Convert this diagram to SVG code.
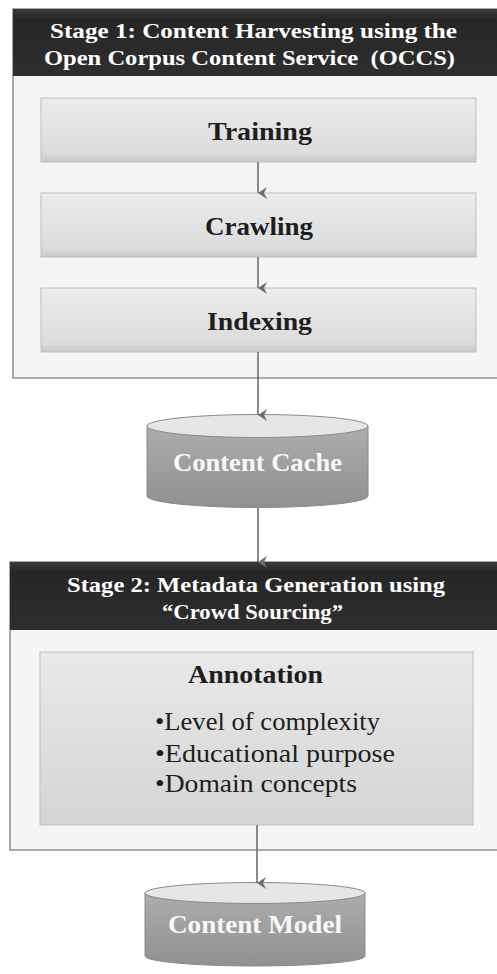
<svg xmlns="http://www.w3.org/2000/svg" width="497" height="974" viewBox="0 0 497 974">
  <defs>
    <linearGradient id="headerFill" x1="0" y1="0" x2="0" y2="1">
      <stop offset="0" stop-color="#3a3a3a"/>
      <stop offset="0.15" stop-color="#262626"/>
      <stop offset="1" stop-color="#2e2e2e"/>
    </linearGradient>
    <linearGradient id="stepFill" x1="0" y1="0" x2="0" y2="1">
      <stop offset="0" stop-color="#ececec"/>
      <stop offset="0.85" stop-color="#dcdcdc"/>
      <stop offset="1" stop-color="#c8c8c8"/>
    </linearGradient>
    <linearGradient id="annotFill" x1="0" y1="0" x2="0" y2="1">
      <stop offset="0" stop-color="#e9e9e9"/>
      <stop offset="1" stop-color="#d4d4d4"/>
    </linearGradient>
    <linearGradient id="drumFill" x1="0" y1="0" x2="0" y2="1">
      <stop offset="0" stop-color="#adadad"/>
      <stop offset="1" stop-color="#909090"/>
    </linearGradient>
    <marker id="arrowHead" markerUnits="userSpaceOnUse" markerWidth="14" markerHeight="14" refX="7" refY="12" orient="auto-start-reverse" viewBox="0 0 14 14">
      <path d="M1,3 L7,12 L13,3 L7,6 Z" fill="#6e6e6e"/>
    </marker>
    <style>
      .stage { fill: #f5f5f5; stroke: #8c8c8c; stroke-width: 1.5; }
      .header { fill: url(#headerFill); }
      .step { fill: url(#stepFill); stroke: #bdbdbd; stroke-width: 1; }
      .annot { fill: url(#annotFill); stroke: #bdbdbd; stroke-width: 1; }
      .drum { fill: url(#drumFill); stroke: #8a8a8a; stroke-width: 1; }
      .drumTop { fill: #e6e6e6; stroke: #8a8a8a; stroke-width: 1; }
      .hdText { font-family: "Liberation Serif", "DejaVu Serif", serif; font-weight: bold; font-size: 22px; fill: #ffffff; text-anchor: middle; white-space: pre; }
      .stepText { font-family: "Liberation Serif", "DejaVu Serif", serif; font-weight: bold; font-size: 25px; fill: #1e1e1e; text-anchor: middle; }
      .drumText { font-family: "Liberation Serif", "DejaVu Serif", serif; font-weight: bold; font-size: 26px; fill: #f8f8f8; text-anchor: middle; }
      .bullet { font-family: "Liberation Serif", "DejaVu Serif", serif; font-size: 26px; fill: #1e1e1e; }
      .conn { stroke: #6e6e6e; stroke-width: 1.6; fill: none; marker-end: url(#arrowHead); }
    </style>
  </defs>

  <!-- Stage 1 container -->
  <g id="stage1">
    <rect class="stage" x="13" y="9" width="490" height="369"/>
    <rect class="header" x="13" y="9" width="490" height="67"/>
    <text class="hdText" x="253.5" y="38" textLength="407" lengthAdjust="spacingAndGlyphs">Stage 1: Content Harvesting using the</text>
    <text class="hdText" x="249.5" y="65" textLength="411" lengthAdjust="spacingAndGlyphs" xml:space="preserve">Open Corpus Content Service  (OCCS)</text>
  </g>

  <g id="training">
    <rect class="step" x="41" y="98" width="435" height="64"/>
    <text class="stepText" x="260" y="140" textLength="104" lengthAdjust="spacingAndGlyphs">Training</text>
  </g>

  <g id="crawling">
    <rect class="step" x="41" y="193" width="435" height="64"/>
    <text class="stepText" x="259" y="235" textLength="108" lengthAdjust="spacingAndGlyphs">Crawling</text>
  </g>

  <g id="indexing">
    <rect class="step" x="41" y="288" width="435" height="64"/>
    <text class="stepText" x="259.5" y="330" textLength="105" lengthAdjust="spacingAndGlyphs">Indexing</text>
  </g>

  <!-- Content cache store -->
  <g id="contentCache">
    <path class="drum" d="M147,426 L147,496 A110.5,11.5 0 0 0 368,496 L368,426 Z"/>
    <ellipse class="drumTop" cx="257.5" cy="426" rx="110.5" ry="11.5"/>
    <text class="drumText" x="257.5" y="471" textLength="169" lengthAdjust="spacingAndGlyphs">Content Cache</text>
  </g>

  <!-- Stage 2 container -->
  <g id="stage2">
    <rect class="stage" x="10" y="562" width="495" height="288"/>
    <rect class="header" x="10" y="562" width="495" height="68"/>
    <text class="hdText" x="256" y="592" textLength="378" lengthAdjust="spacingAndGlyphs">Stage 2: Metadata Generation using</text>
    <text class="hdText" x="252.5" y="619" textLength="181" lengthAdjust="spacingAndGlyphs">“Crowd Sourcing”</text>
  </g>

  <g id="annotation">
    <rect class="annot" x="40" y="652" width="433" height="173"/>
    <text class="stepText" x="255.5" y="683" textLength="135" lengthAdjust="spacingAndGlyphs">Annotation</text>
    <text class="bullet" x="155" y="730" textLength="225" lengthAdjust="spacingAndGlyphs">•Level of complexity</text>
    <text class="bullet" x="155" y="762" textLength="240" lengthAdjust="spacingAndGlyphs">•Educational purpose</text>
    <text class="bullet" x="155" y="792" textLength="202" lengthAdjust="spacingAndGlyphs">•Domain concepts</text>
  </g>

  <!-- Content model store -->
  <g id="contentModel">
    <path class="drum" d="M145,893 L145,956 A110,10 0 0 0 365,956 L365,893 Z"/>
    <ellipse class="drumTop" cx="255" cy="893" rx="110" ry="10.5"/>
    <text class="drumText" x="255" y="933" textLength="174" lengthAdjust="spacingAndGlyphs">Content Model</text>
  </g>

  <!-- Flow connectors -->
  <g id="connectors">
    <line class="conn" x1="258" y1="162" x2="258" y2="193"/>
    <line class="conn" x1="258" y1="257" x2="258" y2="288"/>
    <line class="conn" x1="258" y1="352" x2="258" y2="415"/>
    <line class="conn" x1="258" y1="508" x2="258" y2="562"/>
    <line class="conn" x1="257" y1="825" x2="257" y2="883"/>
  </g>
</svg>
